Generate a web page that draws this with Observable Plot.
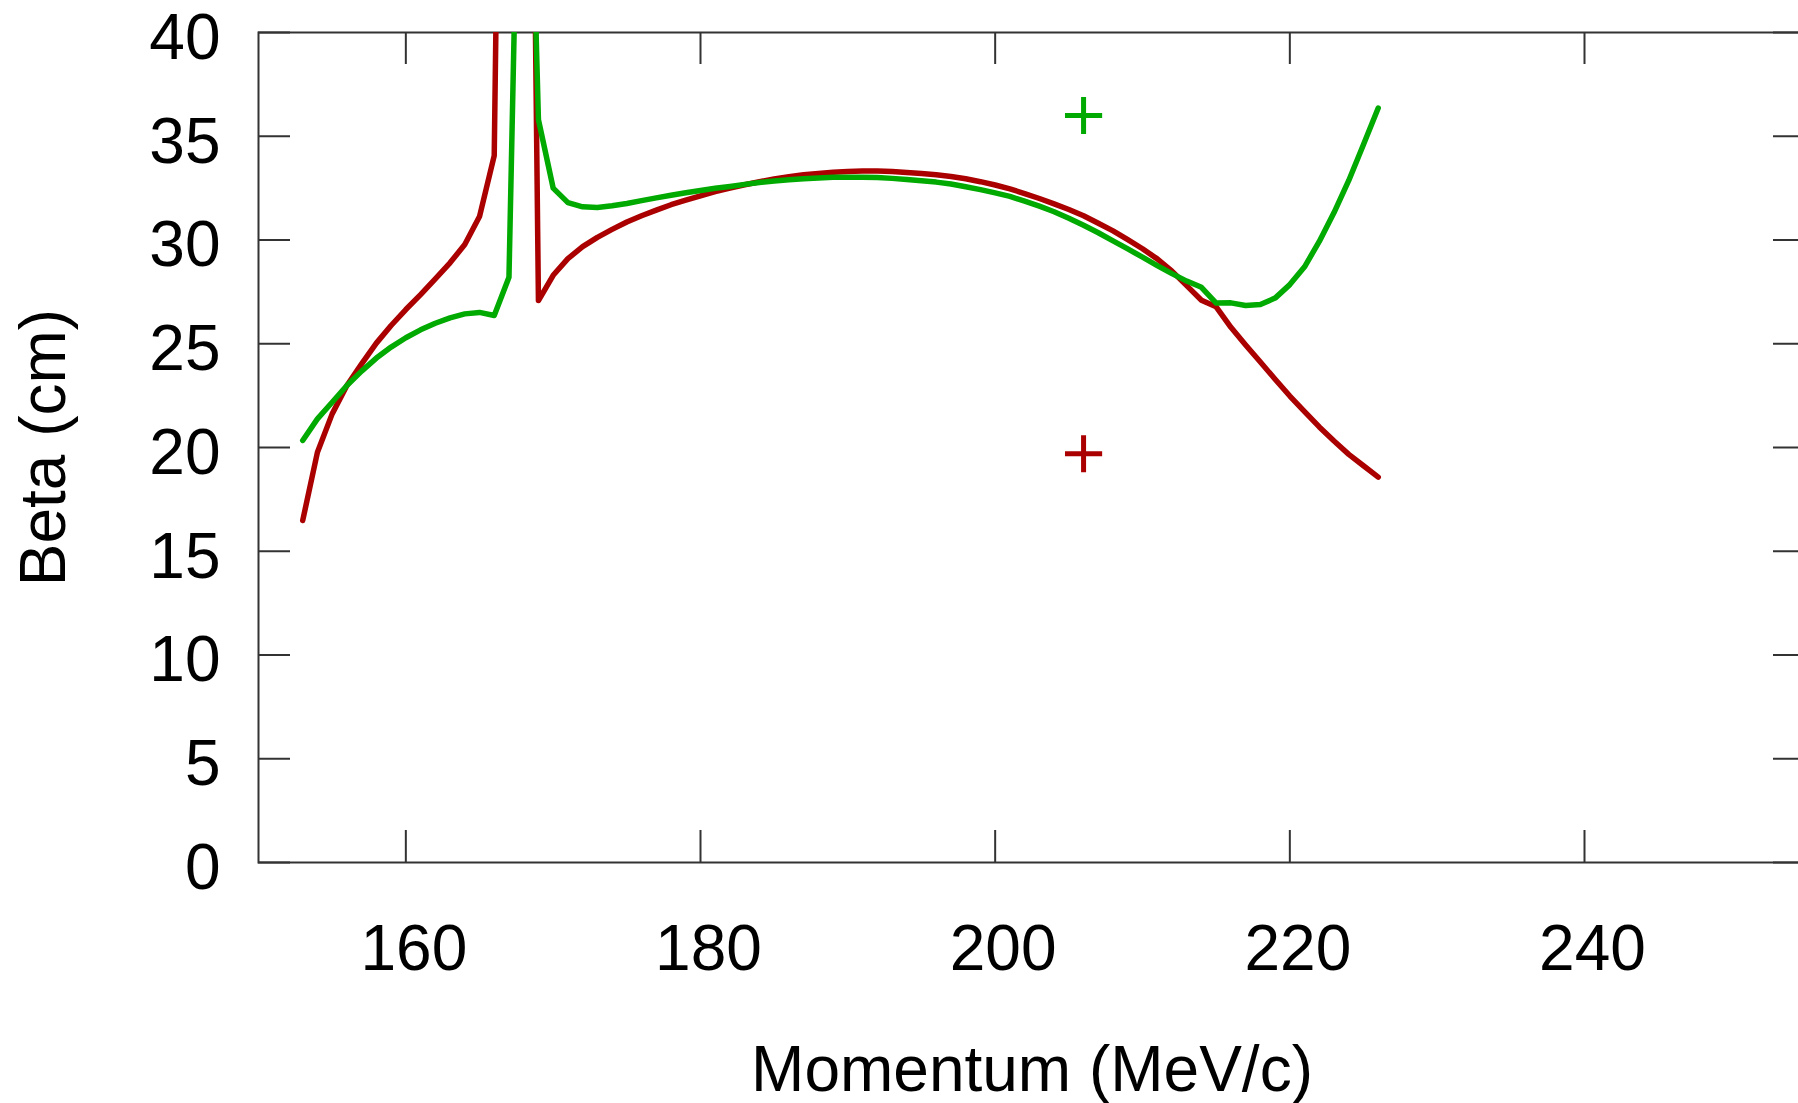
<!DOCTYPE html>
<html>
<head>
<meta charset="utf-8">
<script src="https://cdn.jsdelivr.net/npm/d3@7"></script>
<script src="https://cdn.jsdelivr.net/npm/@observablehq/plot@0.6"></script>
<style>
html, body { margin: 0; padding: 0; background: #fff; }
svg { display: block; }
</style>
</head>
<body>
<div id="chart"></div>
<script>
const momentum = [153,154,155,156,157,158,159,160,161,162,163,164,165,166,167,168,169,170,171,172,173,174,175,176,177,178,179,180,181,182,183,184,185,186,187,188,189,190,191,192,193,194,195,196,197,198,199,200,201,202,203,204,205,206,207,208,209,210,211,212,213,214,215,216,217,218,219,220,221,222,223,224,225,226];
const betaRed = [16.48,19.77,21.62,22.99,24.03,25.03,25.88,26.65,27.37,28.13,28.9,29.78,31.13,34.07,88,91,27.08,28.3,29.1,29.68,30.13,30.51,30.87,31.17,31.44,31.7,31.92,32.13,32.33,32.5,32.66,32.81,32.94,33.05,33.15,33.21,33.26,33.3,33.32,33.32,33.3,33.25,33.2,33.14,33.06,32.95,32.81,32.65,32.46,32.24,32.0,31.74,31.47,31.17,30.81,30.44,30.02,29.58,29.09,28.5,27.8,27.1,26.78,25.79,24.94,24.12,23.29,22.48,21.73,20.99,20.31,19.67,19.12,18.57];
const betaGreen = [20.34,21.38,22.18,22.99,23.68,24.31,24.84,25.29,25.67,25.99,26.25,26.44,26.51,26.36,28.2,62,35.8,32.5,31.8,31.6,31.57,31.65,31.76,31.9,32.03,32.16,32.28,32.39,32.49,32.58,32.68,32.77,32.84,32.9,32.95,32.99,33.02,33.03,33.03,33.01,32.97,32.92,32.86,32.79,32.7,32.57,32.43,32.27,32.1,31.87,31.63,31.36,31.05,30.71,30.35,29.96,29.57,29.17,28.77,28.38,28.02,27.72,26.96,26.97,26.84,26.89,27.2,27.85,28.71,29.93,31.32,32.87,34.6,36.36];
const markerMomentum = [206, 206];
const markerBeta = [19.7, 36];
const markerSeries = ["red", "green"];
const xTicks = [160, 180, 200, 220, 240];
const yTicks = [0, 5, 10, 15, 20, 25, 30, 35, 40];
const xDomain = [150, 255];
const yDomain = [0, 40];
const xLabel = "Momentum (MeV/c)";
const yLabel = "Beta (cm)";

const RED = "#aa0000", GREEN = "#00aa00";
const W = 1798, H = 1103;
const mL = 258, mR = -7, mT = 32, mB = 241;
const plotW = W - mL - mR, plotH = H - mT - mB;
const tick = 32;

const redRows = momentum.map((m, i) => ({m, b: betaRed[i]}));
const greenRows = momentum.map((m, i) => ({m, b: betaGreen[i]}));
const markers = markerMomentum.map((m, i) => ({m, b: markerBeta[i], s: markerSeries[i]}));

const chart = Plot.plot({
  width: W, height: H,
  marginLeft: mL, marginRight: mR, marginTop: mT, marginBottom: mB,
  style: {fontFamily: "'Liberation Sans', Arial, Helvetica, sans-serif", background: "#fff", color: "#000"},
  x: {domain: xDomain},
  y: {domain: yDomain},
  marks: [
    Plot.frame({stroke: "#333", strokeWidth: 2}),
    Plot.tickX(xTicks, {x: d => d, insetTop: plotH - tick, stroke: "#333", strokeWidth: 2}),
    Plot.tickX(xTicks, {x: d => d, insetBottom: plotH - tick, stroke: "#333", strokeWidth: 2}),
    Plot.tickY(yTicks, {y: d => d, insetRight: plotW - tick, stroke: "#333", strokeWidth: 2}),
    Plot.tickY(yTicks, {y: d => d, insetLeft: plotW - tick, stroke: "#333", strokeWidth: 2}),
    Plot.axisX({ticks: xTicks, tickSize: 0, tickPadding: 62, fontSize: 64, dx: 8, label: null}),
    Plot.axisY({ticks: yTicks, tickSize: 0, tickPadding: 38, fontSize: 64, dy: 6, label: null}),
    Plot.line(redRows, {x: "m", y: "b", stroke: RED, strokeWidth: 5.5, clip: true}),
    Plot.line(greenRows, {x: "m", y: "b", stroke: GREEN, strokeWidth: 5.5, clip: true}),
    Plot.dot(markers, {x: "m", y: "b", symbol: "plus", r: 12, strokeWidth: 5,
      stroke: d => d.s === "red" ? RED : GREEN}),
    Plot.text([xLabel], {frameAnchor: "bottom", dy: 228, lineAnchor: "bottom", fontSize: 64, fill: "#000"}),
    Plot.text([yLabel], {frameAnchor: "left", dx: 44 - mL, rotate: -90, textAnchor: "middle", lineAnchor: "middle", fontSize: 64, fill: "#000"})
  ]
});
document.getElementById("chart").appendChild(chart);
</script>
</body>
</html>
